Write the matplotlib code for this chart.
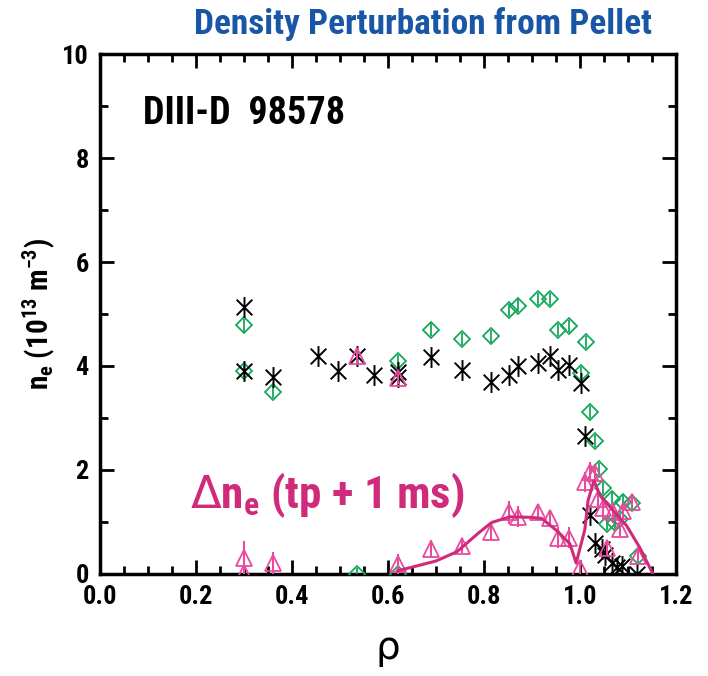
import numpy as np
import matplotlib
matplotlib.use('Agg')
import matplotlib.pyplot as plt
from matplotlib.ticker import MultipleLocator
from matplotlib.path import Path

# density before pellet (black)
rho_pre = [0.30, 0.30, 0.36, 0.454, 0.496, 0.536, 0.571, 0.621, 0.621, 0.69, 0.754,
           0.815, 0.852, 0.871, 0.913, 0.9375, 0.954, 0.977, 1.002, 1.01, 1.021,
           1.031, 1.046, 1.052, 1.067, 1.077, 1.087, 1.119]
ne_pre = [5.13, 3.90, 3.78, 4.19, 3.91, 4.19, 3.82, 3.88, 3.78, 4.17, 3.93,
          3.70, 3.82, 4.00, 4.05, 4.19, 3.93, 4.01, 3.68, 2.65, 1.14,
          0.60, 0.48, 0.36, 0.22, 0.13, 0.15, 0.0]

# density after pellet (green)
rho_post = [0.30, 0.30, 0.36, 0.536, 0.621, 0.621, 0.69, 0.754, 0.815, 0.852, 0.871,
            0.913, 0.9375, 0.954, 0.977, 1.002, 1.0125, 1.021, 1.031, 1.040, 1.048,
            1.067, 1.090, 1.108, 1.056, 1.073, 1.083, 1.121]
ne_post = [4.78, 3.90, 3.50, 0.0, 4.10, 0.0, 4.70, 4.52, 4.57, 5.08, 5.16,
           5.29, 5.29, 4.69, 4.77, 3.87, 4.46, 3.12, 2.56, 2.02, 1.65,
           1.45, 1.39, 1.36, 0.97, 0.99, 1.05, 0.35]

# perturbation (pink) with error bars
rho_d = [0.30, 0.30, 0.36, 0.536, 0.621, 0.621, 0.69, 0.754, 0.815, 0.852, 0.871,
         0.9125, 0.9375, 0.954, 0.977, 1.0, 1.01, 1.021, 1.031, 1.0375, 1.048,
         1.056, 1.069, 1.083, 1.090, 1.108, 1.121]
dne = [0.31, 0.02, 0.21, 4.19, 3.76, 0.19, 0.48, 0.53, 0.80, 1.19, 1.10,
       1.19, 1.07, 0.70, 0.70, 0.12, 1.77, 1.96, 1.94, 1.45, 1.26,
       0.50, 1.19, 0.87, 1.22, 1.38, 0.35]
dne_err = [0.33, 0.02, 0.22, 0.15, 0.10, 0.19, 0.18, 0.12, 0.15, 0.22, 0.20,
           0.15, 0.15, 0.20, 0.20, 0.15, 0.20, 0.20, 0.15, 0.20, 0.20,
           0.15, 0.20, 0.15, 0.15, 0.10, 0.10]

# fit curve
rho_fit = [0.62, 0.70, 0.744, 0.79, 0.816, 0.854, 0.896, 0.92, 0.952, 0.979, 0.992,
           1.01, 1.017, 1.029, 1.042, 1.069, 1.097, 1.125, 1.152]
dne_fit = [0.06, 0.25, 0.43, 0.80, 0.99, 1.10, 1.09, 1.07, 0.83, 0.58, 0.21,
           0.85, 1.42, 1.79, 1.51, 1.22, 0.93, 0.50, 0.0]

fnt = ['Liberation Sans Narrow', 'Arial Narrow', 'Roboto Condensed', 'PT Sans Narrow',
       'Archivo Narrow', 'Liberation Sans']
pink = '#d02b7b'
pink_pts = '#ea4a9e'
green = '#16a85a'

plt.rcParams['mathtext.fontset'] = 'custom'
plt.rcParams['mathtext.rm'] = 'DejaVu Sans'
plt.rcParams['mathtext.bf'] = 'Roboto Condensed:bold'

# X with a vertical bar
star = Path([(0, -1), (0, 1), (-0.75, -0.75), (0.75, 0.75), (-0.75, 0.75), (0.75, -0.75)],
            [Path.MOVETO, Path.LINETO] * 3)

fig = plt.figure(figsize=(7.08, 6.76), dpi=100)
ax = fig.add_axes([0.1412, 0.1509, 0.8136, 0.7692])

ax.errorbar(rho_post, ne_post, yerr=0.12, fmt='D', ms=8, mfc='none', mec=green,
            mew=1.3, ecolor=green, elinewidth=1.3, capsize=0, zorder=3)
ax.plot(rho_pre, ne_pre, ls='none', marker=star, ms=15, mec='black',
        mew=1.4, zorder=4)
ax.errorbar(rho_d, dne, yerr=dne_err, fmt='^', ms=11, mfc='none', mec=pink_pts,
            mew=1.3, ecolor=pink_pts, elinewidth=1.5, capsize=0, zorder=5)
ax.plot(rho_fit, dne_fit, color=pink, lw=2.2, zorder=6)

ax.set_xlim(0, 1.2)
ax.set_ylim(0, 10)
ax.xaxis.set_major_locator(MultipleLocator(0.2))
ax.xaxis.set_minor_locator(MultipleLocator(0.05))
ax.yaxis.set_major_locator(MultipleLocator(2))
ax.yaxis.set_minor_locator(MultipleLocator(1))
ax.tick_params(which='both', direction='in', top=True, right=True, width=2)
ax.tick_params(which='major', length=10, pad=8)
ax.tick_params(which='minor', length=6)
for s in ax.spines.values():
    s.set_linewidth(2.5)
ax.xaxis.set_major_formatter(matplotlib.ticker.FormatStrFormatter('%.1f'))
for lab in ax.get_xticklabels() + ax.get_yticklabels():
    lab.set_family(fnt)
    lab.set_fontweight('bold')
    lab.set_fontsize(19)

ax.set_xlabel('ρ', family=['DejaVu Sans'], fontsize=28, labelpad=14)
ax.set_ylabel(r'n$_\mathbf{e}$ (10$^{\mathbf{13}}$ m$^{\mathbf{-3}}$)', family=fnt,
              fontweight='bold', fontsize=21, labelpad=4)

fig.text(0.597, 0.965, 'Density Perturbation from Pellet', ha='center', va='center',
         family=fnt, fontweight='bold', fontsize=25.5, color='#1a56a6')
ax.text(0.075, 0.885, 'DIII-D  98578', transform=ax.transAxes, ha='left', va='center',
        family=fnt, fontweight='bold', fontsize=27.5, color='black')
ax.text(0.156, 0.152, r'$\Delta$n$_\mathbf{e}$ (tp + 1 ms)', transform=ax.transAxes,
        ha='left', va='center', family=fnt, fontweight='bold', fontsize=32.5, color=pink)

fig.savefig('out.png', dpi=100)
